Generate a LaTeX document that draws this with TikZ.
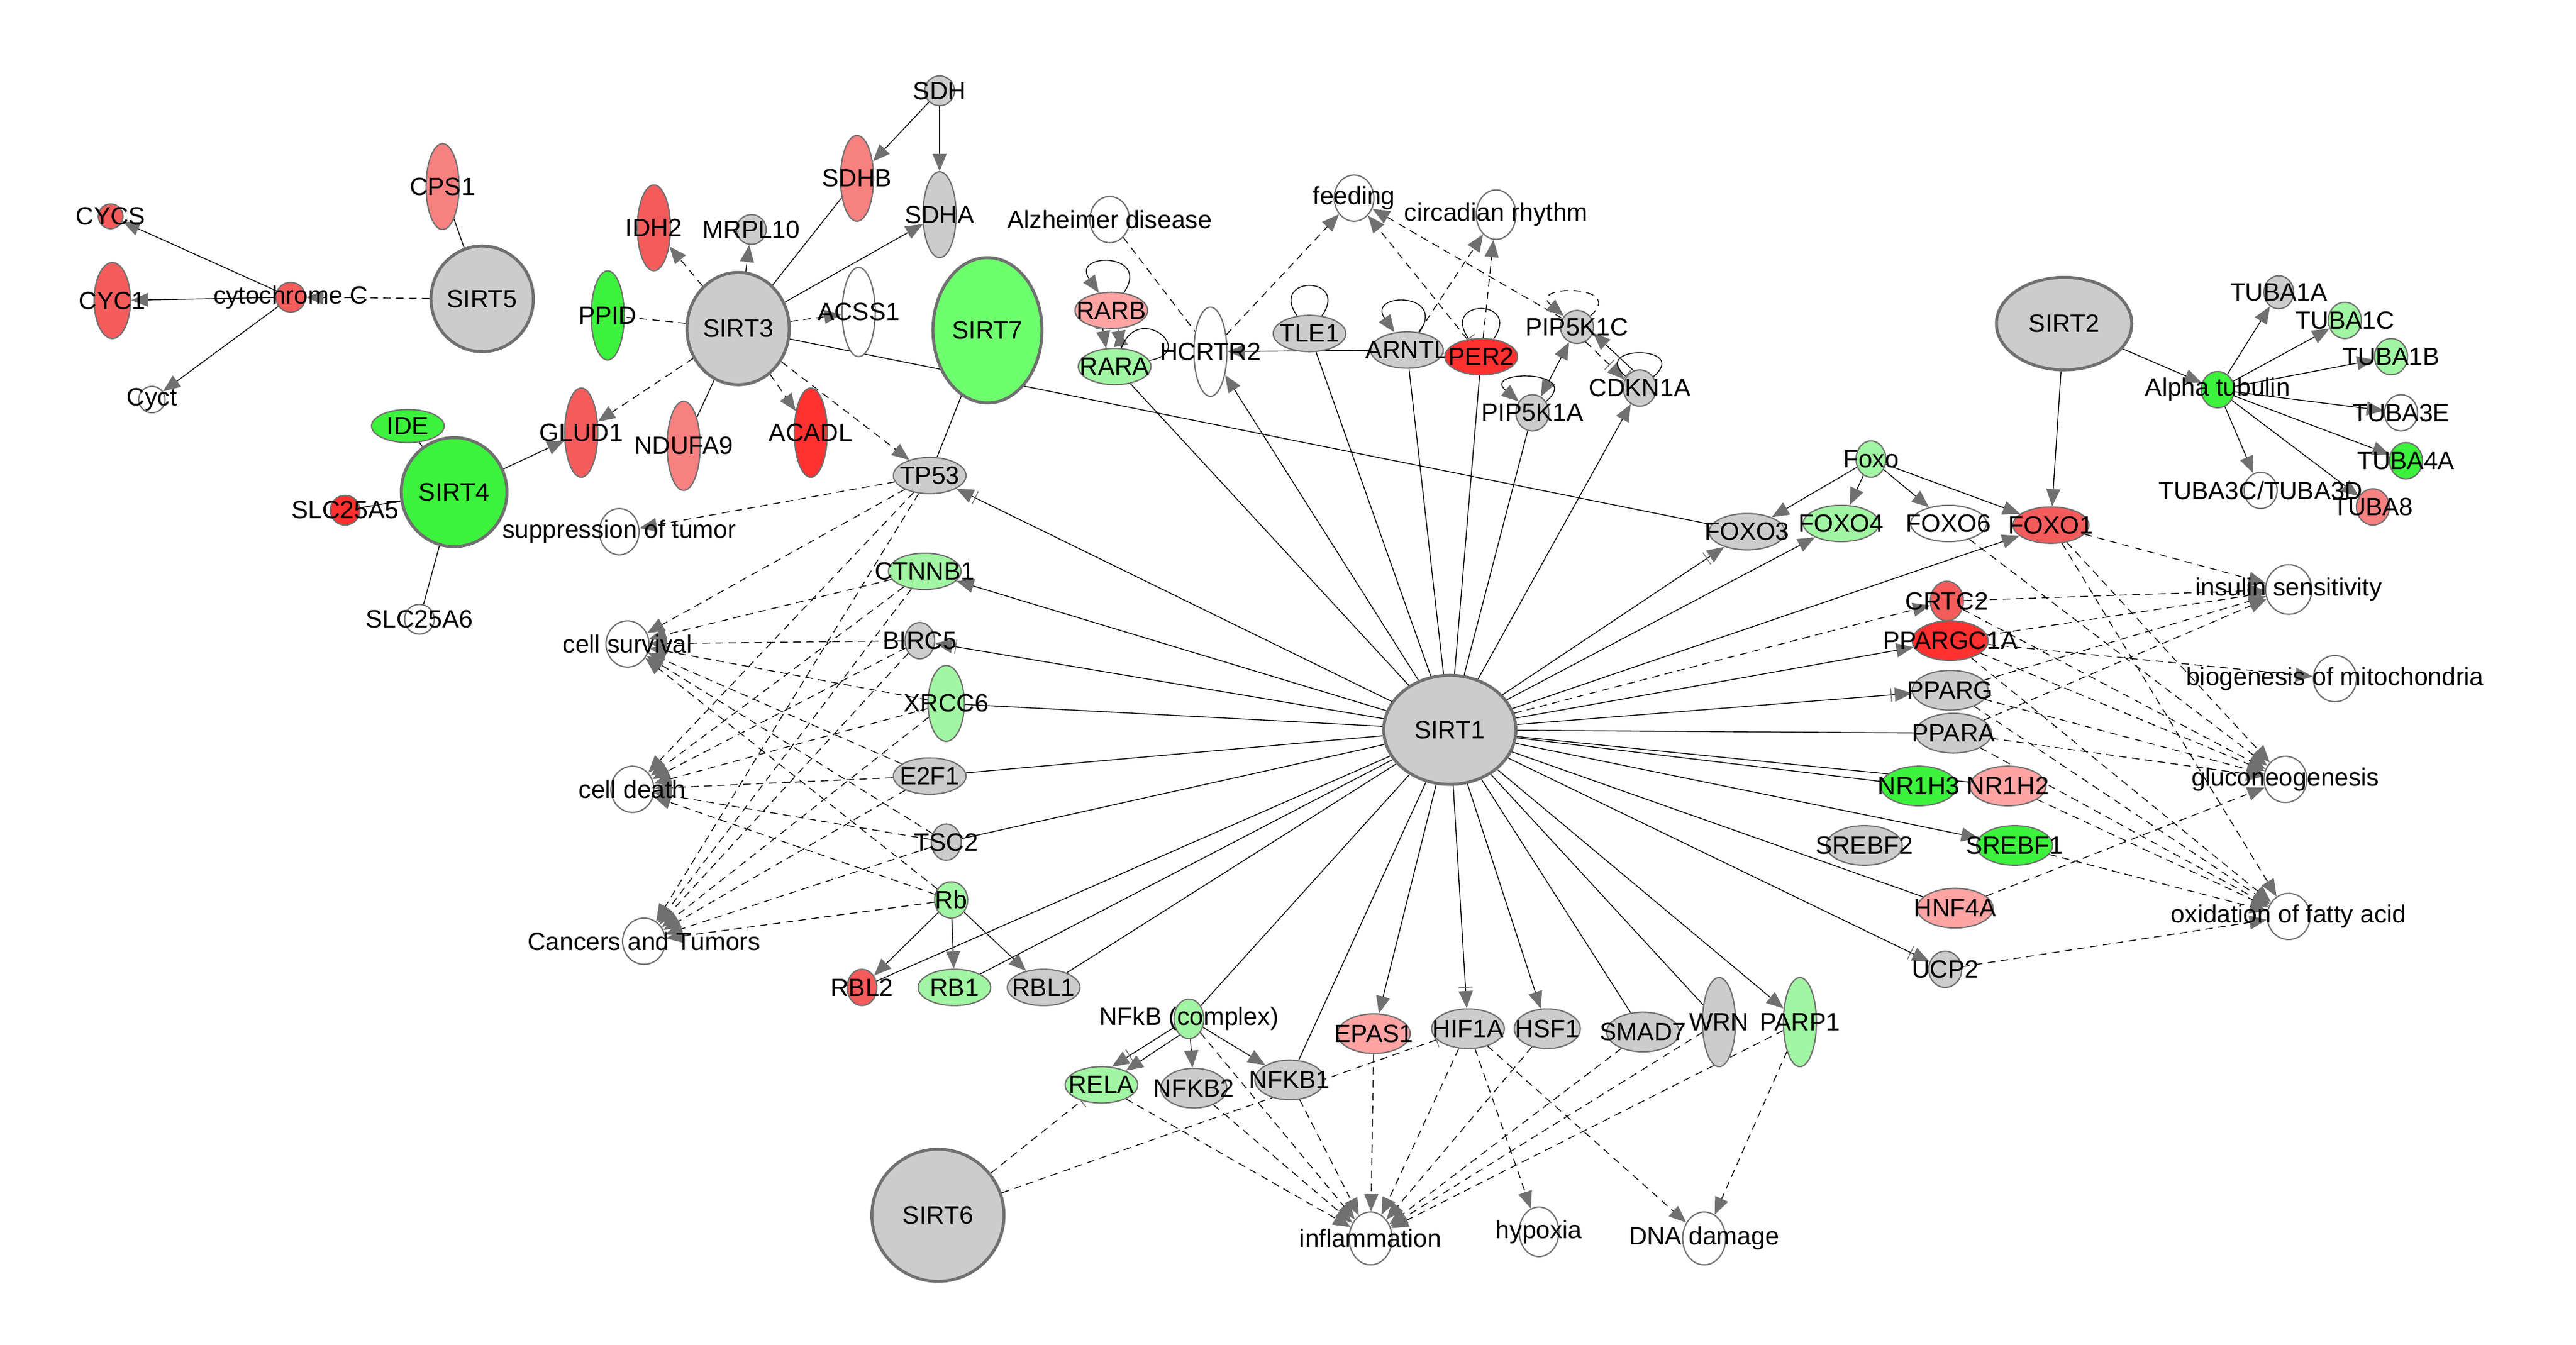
\documentclass[tikz,border=0pt]{standalone}
\usepackage{fontspec}
\setmainfont{Liberation Sans}
\usetikzlibrary{shapes.geometric,arrows.meta,backgrounds}

\definecolor{eg}{HTML}{707070}
\definecolor{gy}{HTML}{CCCCCC}
\definecolor{rd}{HTML}{FF3030}
\definecolor{rm}{HTML}{F45C5C}
\definecolor{sa}{HTML}{F78080}
\definecolor{pk}{HTML}{FFA3A3}
\definecolor{gn}{HTML}{3CF23C}
\definecolor{gm}{HTML}{6EFF6E}
\definecolor{lg}{HTML}{A2F5A2}

\newlength{\dpx}
\setlength{\dpx}{0.0269cm}
\newcommand{\lblfont}{\fontsize{11.6}{13}\selectfont}

\tikzset{
  mol/.style n args={3}{ellipse, draw=eg, line width=0.6pt, fill=#1,
    minimum width=#2*\dpx, minimum height=#3*\dpx, inner sep=0pt},
  big/.style={line width=1.4pt},
  every label/.style={font=\lblfont, text=black, inner sep=0pt},
  >={Triangle[length=8pt,width=6.5pt,color=eg,fill=eg]},
  inh/.style={-{Bar[width=6.5pt,sep=1.5pt,color=eg]Triangle[length=8pt,width=6.5pt,color=eg,fill=eg]}},
  bar/.style={-{Bar[width=7pt,color=eg]}},
  dsh/.style={dash pattern=on 3.5pt off 2.5pt},
  selfloop/.style={min distance=30*\dpx, looseness=1}
}

\begin{document}
\begin{tikzpicture}[x=0.0269cm, y=-0.0269cm]
\useasboundingbox (0,0) rectangle (1560,814.2);

\node [mol={rm}{15}{15}, label=center:CYCS] (CYCS) at (67,131) {};
\node [mol={rm}{22}{46}, label=center:CYC1] (CYC1) at (68,182) {};
\node [mol={rm}{18}{18}, label={center:cytochrome C}] (CYTC) at (176,180) {};
\node [mol={white}{16}{16}, label=center:Cyct] (CYCT) at (92,242) {};
\node [mol={sa}{20}{52}, label=center:CPS1] (CPS1) at (268,113) {};
\node [mol={gy}{62}{64}, big, label=center:SIRT5] (SIRT5) at (292,181) {};
\node [mol={rm}{20}{52}, label=center:IDH2] (IDH2) at (396,138) {};
\node [mol={gy}{18}{18}, label=center:MRPL10] (MRPL10) at (455,139) {};
\node [mol={sa}{20}{52}, label=center:SDHB] (SDHB) at (519,108) {};
\node [mol={gy}{18}{18}, label=center:SDH] (SDH) at (569,55) {};
\node [mol={gy}{20}{52}, label=center:SDHA] (SDHA) at (569,130) {};
\node [mol={gn}{20}{54}, label=center:PPID] (PPID) at (368,191) {};
\node [mol={gy}{62}{68}, big, label=center:SIRT3] (SIRT3) at (447,199) {};
\node [mol={white}{20}{54}, label=center:ACSS1] (ACSS1) at (520,189) {};
\node [mol={rm}{20}{54}, label=center:GLUD1] (GLUD1) at (352,262) {};
\node [mol={sa}{20}{54}, label=center:NDUFA9] (NDUFA9) at (414,270) {};
\node [mol={rd}{20}{54}, label=center:ACADL] (ACADL) at (491,262) {};
\node [mol={gn}{44}{20}, label=center:IDE] (IDE) at (247,258) {};
\node [mol={gn}{64}{66}, big, label=center:SIRT4] (SIRT4) at (275,298) {};
\node [mol={rd}{18}{18}, label=center:SLC25A5] (SLC25A5) at (209,309) {};
\node [mol={white}{18}{18}, label=center:SLC25A6] (SLC25A6) at (254,375) {};
\node [mol={white}{24}{28}, label={center:suppression of tumor}] (SUPP) at (375,322) {};
\node [mol={gm}{66}{88}, big, label=center:SIRT7] (SIRT7) at (598,200) {};
\node [mol={gy}{44}{22}, label=center:TP53] (TP53) at (563,288) {};

\node [mol={white}{24}{28}, label={center:Alzheimer disease}] (ALZ) at (672,133) {};
\node [mol={pk}{44}{22}, label=center:RARB] (RARB) at (673,188) {};
\node [mol={lg}{44}{22}, label=center:RARA] (RARA) at (675,222) {};
\node [mol={white}{20}{54}, label=center:HCRTR2] (HCRTR2) at (733,213) {};
\node [mol={white}{24}{28}, label=center:feeding] (FEED) at (820,120) {};
\node [mol={white}{24}{30}, label={center:circadian rhythm}] (CIRC) at (906,130) {};
\node [mol={gy}{44}{22}, label=center:TLE1] (TLE1) at (793,202) {};
\node [mol={gy}{44}{22}, label=center:ARNTL] (ARNTL) at (852,212) {};
\node [mol={rd}{44}{22}, label=center:PER2] (PER2) at (897,216) {};
\node [mol={gy}{20}{20}, label=center:PIP5K1C] (PIP5K1C) at (955,198) {};
\node [mol={gy}{20}{22}, label=center:PIP5K1A] (PIP5K1A) at (928,250) {};
\node [mol={gy}{20}{22}, label=center:CDKN1A] (CDKN1A) at (993,235) {};

\node [mol={gy}{80}{66}, big, label=center:SIRT1] (SIRT1) at (878,442) {};
\node [mol={gy}{82}{56}, big, label=center:SIRT2] (SIRT2) at (1250,196) {};
\node [mol={gn}{20}{22}, label={center:Alpha tubulin}] (ATUB) at (1343,236) {};
\node [mol={gy}{18}{20}, label=center:TUBA1A] (TUBA1A) at (1380,177) {};
\node [mol={lg}{20}{22}, label=center:TUBA1C] (TUBA1C) at (1420,194) {};
\node [mol={lg}{20}{22}, label=center:TUBA1B] (TUBA1B) at (1448,216) {};
\node [mol={white}{20}{22}, label=center:TUBA3E] (TUBA3E) at (1454,250) {};
\node [mol={gn}{20}{22}, label=center:TUBA4A] (TUBA4A) at (1457,279) {};
\node [mol={white}{20}{22}, label=center:TUBA3C/TUBA3D] (TUBA3C) at (1369,297) {};
\node [mol={sa}{20}{22}, label=center:TUBA8] (TUBA8) at (1437,307) {};

\node [mol={lg}{18}{22}, label=center:Foxo] (FOXO) at (1133,278) {};
\node [mol={gy}{46}{22}, label=center:FOXO3] (FOXO3) at (1058,322) {};
\node [mol={lg}{46}{22}, label=center:FOXO4] (FOXO4) at (1115,317) {};
\node [mol={white}{46}{22}, label=center:FOXO6] (FOXO6) at (1180,317) {};
\node [mol={rm}{46}{22}, label=center:FOXO1] (FOXO1) at (1242,318) {};
\node [mol={rm}{20}{24}, label=center:CRTC2] (CRTC2) at (1179,364) {};
\node [mol={rd}{46}{24}, label=center:PPARGC1A] (PPARGC1A) at (1181,388) {};
\node [mol={gy}{46}{24}, label=center:PPARG] (PPARG) at (1181,418) {};
\node [mol={gy}{46}{24}, label=center:PPARA] (PPARA) at (1183,444) {};
\node [mol={gn}{46}{24}, label=center:NR1H3] (NR1H3) at (1162,476) {};
\node [mol={pk}{46}{24}, label=center:NR1H2] (NR1H2) at (1216,476) {};
\node [mol={gy}{46}{24}, label=center:SREBF2] (SREBF2) at (1129,512) {};
\node [mol={gn}{46}{24}, label=center:SREBF1] (SREBF1) at (1220,512) {};
\node [mol={pk}{46}{24}, label=center:HNF4A] (HNF4A) at (1184,550) {};
\node [mol={gy}{20}{22}, label=center:UCP2] (UCP2) at (1178,587) {};
\node [mol={white}{28}{30}, label={center:insulin sensitivity}] (INS) at (1386,357) {};
\node [mol={white}{26}{28}, label={center:biogenesis of mitochondria}] (BIOG) at (1414,411) {};
\node [mol={white}{26}{28}, label=center:gluconeogenesis] (GLUC) at (1384,472) {};
\node [mol={white}{26}{28}, label={center:oxidation of fatty acid}] (OXID) at (1386,555) {};

\node [mol={lg}{44}{22}, label=center:CTNNB1] (CTNNB1) at (560,346) {};
\node [mol={gy}{18}{22}, label=center:BIRC5] (BIRC5) at (557,388) {};
\node [mol={lg}{22}{46}, label=center:XRCC6] (XRCC6) at (573,426) {};
\node [mol={gy}{44}{22}, label=center:E2F1] (E2F1) at (563,470) {};
\node [mol={gy}{18}{22}, label=center:TSC2] (TSC2) at (573,510) {};
\node [mol={lg}{20}{22}, label=center:Rb] (Rb) at (576,545) {};
\node [mol={white}{26}{28}, label={center:cell survival}] (SURV) at (380,390) {};
\node [mol={white}{26}{28}, label={center:cell death}] (DEATH) at (383,478) {};
\node [mol={white}{26}{28}, label={center:Cancers and Tumors}] (CANC) at (390,570) {};
\node [mol={rm}{18}{22}, label=center:RBL2] (RBL2) at (522,598) {};
\node [mol={lg}{44}{22}, label=center:RB1] (RB1) at (578,598) {};
\node [mol={gy}{44}{22}, label=center:RBL1] (RBL1) at (632,598) {};

\node [mol={lg}{18}{24}, label={center:NFkB (complex)}] (NFKB) at (720,617) {};
\node [mol={lg}{44}{22}, label=center:RELA] (RELA) at (667,657) {};
\node [mol={gy}{40}{24}, label=center:NFKB2] (NFKB2) at (723,659) {};
\node [mol={gy}{42}{24}, label=center:NFKB1] (NFKB1) at (781,654) {};
\node [mol={gy}{80}{80}, big, label=center:SIRT6] (SIRT6) at (568,736) {};
\node [mol={pk}{44}{24}, label=center:EPAS1] (EPAS1) at (832,626) {};
\node [mol={gy}{44}{24}, label=center:HIF1A] (HIF1A) at (889,623) {};
\node [mol={gy}{40}{24}, label=center:HSF1] (HSF1) at (937,623) {};
\node [mol={gy}{44}{24}, label=center:SMAD7] (SMAD7) at (995,625) {};
\node [mol={gy}{20}{54}, label=center:WRN] (WRN) at (1041,619) {};
\node [mol={lg}{20}{54}, label=center:PARP1] (PARP1) at (1090,619) {};
\node [mol={white}{26}{32}, label=center:inflammation] (INFL) at (830,750) {};
\node [mol={white}{24}{30}, label=center:hypoxia] (HYPX) at (932,746) {};
\node [mol={white}{26}{32}, label={center:DNA damage}] (DNAD) at (1032,750) {};

\begin{scope}[on background layer, draw=eg, line width=0.75pt]
\draw [->] (CYTC) -- (CYCS);
\draw [->] (CYTC) -- (CYC1);
\draw [->] (CYTC) -- (CYCT);
\draw [dsh, ->] (SIRT5) -- (CYTC);
\draw (SIRT5) -- (CPS1);
\draw [dsh, ->] (SIRT3) -- (IDH2);
\draw [dsh, ->] (SIRT3) -- (MRPL10);
\draw (SIRT3) -- (SDHB);
\draw [->] (SIRT3) -- (SDHA);
\draw [->] (SDH) -- (SDHB);
\draw [->] (SDH) -- (SDHA);
\draw [dsh, ->] (SIRT3) -- (ACSS1);
\draw [dsh] (SIRT3) -- (PPID);
\draw [dsh, ->] (SIRT3) -- (GLUD1);
\draw (SIRT3) -- (NDUFA9);
\draw [dsh, ->] (SIRT3) -- (ACADL);
\draw [dsh, ->] (SIRT3) -- (TP53);
\draw (SIRT3) -- (FOXO3);
\draw [->] (SIRT4) -- (GLUD1);
\draw [dsh] (SIRT4) -- (IDE);
\draw (SIRT4) -- (SLC25A5);
\draw (SIRT4) -- (SLC25A6);
\draw (SIRT7) -- (TP53);
\draw [dsh, ->] (TP53) -- (SUPP);
\foreach \s in {TP53, CTNNB1, BIRC5, XRCC6, E2F1, TSC2, Rb}
  \foreach \t in {SURV, DEATH, CANC}
    \draw [dsh, ->] (\s) -- (\t);
\draw [->] (Rb) -- (RBL2);
\draw [->] (Rb) -- (RB1);
\draw [->] (Rb) -- (RBL1);

\draw [dsh] (ALZ) -- (HCRTR2);
\draw [dsh, ->] (HCRTR2) -- (FEED);
\draw [->] (ARNTL) -- (HCRTR2);
\draw [dsh, ->] (ARNTL) -- (CIRC);
\draw [dsh, ->] (PER2) -- (CIRC);
\draw [dsh, ->] (PER2) -- (FEED);
\draw [dsh, ->] (PIP5K1C) -- (FEED);
\draw [<->] (ARNTL) -- (PER2);
\draw [<->] (PIP5K1C) -- (PIP5K1A);
\draw [->] (CDKN1A.110) -- (PIP5K1C.-20);
\draw [dsh, inh] (PIP5K1C.-60) -- (CDKN1A.150);
\draw [inh] (RARB.-115) -- (RARA.115);
\draw [<->] (RARB.-70) -- (RARA.70);
\draw (TLE1) to [out=55, in=125, selfloop] (TLE1);
\draw [->] (ARNTL) to [out=55, in=125, selfloop] (ARNTL);
\draw [bar] (PER2) to [out=55, in=125, selfloop] (PER2);
\draw [->] (RARB) to [out=55, in=125, selfloop] (RARB);
\draw (RARA) to [out=70, in=10, selfloop] (RARA);
\draw [dsh, ->] (PIP5K1C) to [out=40, in=140, selfloop] (PIP5K1C);
\draw [->] (PIP5K1A) to [out=40, in=140, selfloop] (PIP5K1A);
\draw [bar] (CDKN1A) to [out=40, in=140, selfloop] (CDKN1A);

\foreach \t in {XRCC6, E2F1, TSC2, RBL2, RB1, RBL1, NFKB, NFKB1, SMAD7, WRN,
    HNF4A, NR1H3, NR1H2, PPARA, PIP5K1A, PER2, ARNTL, TLE1, RARA}
  \draw (SIRT1) -- (\t);
\foreach \t in {CTNNB1, EPAS1, HSF1, PARP1, SREBF1, PPARGC1A, FOXO1, FOXO4,
    CDKN1A, HCRTR2}
  \draw [->] (SIRT1) -- (\t);
\foreach \t in {TP53, BIRC5, HIF1A, UCP2, PPARG, FOXO3}
  \draw [inh] (SIRT1) -- (\t);
\draw [dsh, ->] (SIRT1) -- (CRTC2);

\draw [->] (SIRT2) -- (FOXO1);
\draw [->] (SIRT2) -- (ATUB);
\foreach \t in {TUBA1A, TUBA1C, TUBA1B, TUBA3E, TUBA4A, TUBA3C, TUBA8}
  \draw [->] (ATUB) -- (\t);
\foreach \t in {FOXO3, FOXO4, FOXO6, FOXO1}
  \draw [->] (FOXO) -- (\t);

\foreach \t in {INS, GLUC, OXID}
  \draw [dsh, ->] (FOXO1) -- (\t);
\draw [dsh, ->] (FOXO6) -- (GLUC);
\draw [dsh, ->] (CRTC2) -- (INS);
\draw [dsh, ->] (CRTC2) -- (GLUC);
\foreach \t in {INS, BIOG, GLUC, OXID}
  \draw [dsh, ->] (PPARGC1A) -- (\t);
\foreach \t in {INS, GLUC, OXID}
  \draw [dsh, ->] (PPARG) -- (\t);
\foreach \t in {INS, GLUC, OXID}
  \draw [dsh, ->] (PPARA) -- (\t);
\draw [dsh, ->] (NR1H2) -- (OXID);
\draw [dsh, ->] (SREBF1) -- (OXID);
\draw [dsh, ->] (HNF4A) -- (GLUC);
\draw [dsh, ->] (UCP2) -- (OXID);

\draw [inh] (NFKB.-150) -- (RELA.60);
\draw [->] (NFKB.-120) -- (RELA.30);
\draw [->] (NFKB) -- (NFKB2);
\draw [->] (NFKB) -- (NFKB1);
\foreach \s in {NFKB, RELA, NFKB2, NFKB1, EPAS1, HIF1A, HSF1, SMAD7, WRN, PARP1}
  \draw [dsh, ->] (\s) -- (INFL);
\draw [dsh, ->] (HIF1A) -- (HYPX);
\draw [dsh, ->] (HIF1A) -- (DNAD);
\draw [dsh, ->] (PARP1) -- (DNAD);
\draw [dsh, bar] (SIRT6) -- (RELA);
\draw [dsh, bar] (SIRT6) -- (HIF1A);
\end{scope}
\end{tikzpicture}
\end{document}
